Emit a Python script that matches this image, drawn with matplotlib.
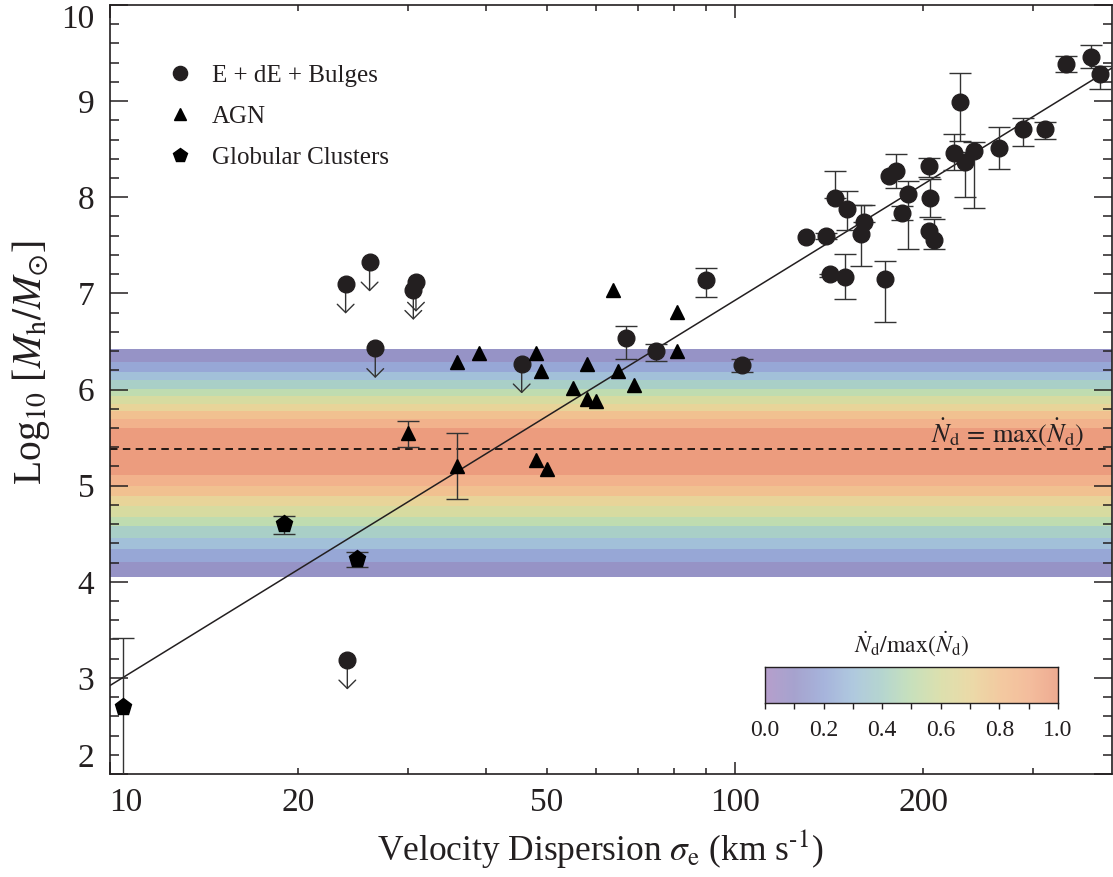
import numpy as np
import matplotlib
matplotlib.use('Agg')
import matplotlib.pyplot as plt
from matplotlib.colors import LinearSegmentedColormap
from matplotlib.ticker import FixedLocator, FixedFormatter

plt.rcParams['font.family'] = ['Liberation Serif', 'DejaVu Serif']
plt.rcParams['mathtext.fontset'] = 'stix'

# ---------------- data ----------------
# E + dE + Bulges (detections)
gal_sigma = [371.5, 338, 384, 229, 288.5, 313, 264.5, 241, 224, 233, 204, 205, 204, 208,
             189, 185, 181, 176, 144.5, 151, 161, 159, 129.7, 139.6, 142, 150, 174,
             89.8, 66.9, 74.9, 102.7]
gal_logM = [9.46, 9.385, 9.28, 8.99, 8.71, 8.71, 8.51, 8.48, 8.465, 8.37, 8.32, 7.99, 7.645, 7.56,
            8.03, 7.84, 8.27, 8.22, 7.99, 7.88, 7.74, 7.62, 7.585, 7.60, 7.20, 7.17, 7.145,
            7.14, 6.54, 6.40, 6.25]
gal_err_lo = [0.12, 0.08, 0.15, 0.40, 0.18, 0.10, 0.22, 0.59, 0.18, 0.37, 0.11, 0.20, 0.0, 0.10,
              0.57, 0.08, 0.17, 0.0, 0.0, 0.22, 0.0, 0.33, 0.0, 0.03, 0.03, 0.23, 0.44,
              0.18, 0.22, 0.10, 0.07]
gal_err_hi = [0.12, 0.08, 0.09, 0.30, 0.11, 0.07, 0.22, 0.09, 0.19, 0.10, 0.09, 0.20, 0.0, 0.21,
              0.14, 0.07, 0.18, 0.0, 0.28, 0.19, 0.18, 0.30, 0.0, 0.03, 0.0, 0.24, 0.19,
              0.12, 0.12, 0.07, 0.07]

# E + dE + Bulges (upper limits)
lim_sigma = [23.85, 26.05, 30.9, 30.6, 26.6, 45.6, 24.0]
lim_logM = [7.10, 7.33, 7.12, 7.035, 6.43, 6.27, 3.19]

# AGN
agn_sigma = [35.95, 38.9, 48.0, 49.0, 57.9, 64.9, 69.0, 55.0, 57.9, 59.9, 80.9, 80.9, 63.9,
             48.0, 50.0, 35.95, 30.0]
agn_logM = [6.29, 6.38, 6.38, 6.19, 6.27, 6.196, 6.045, 6.018, 5.897, 5.879, 6.396, 6.81, 7.04,
            5.269, 5.173, 5.207, 5.552]
agn_err_lo = [0, 0, 0, 0, 0, 0, 0, 0, 0, 0, 0, 0, 0, 0, 0, 0.35, 0.155]
agn_err_hi = [0, 0, 0, 0, 0, 0, 0, 0, 0, 0, 0, 0, 0, 0, 0, 0.34, 0.12]

# Globular clusters
gc_sigma = [10.5, 19.0, 24.9]
gc_logM = [2.70, 4.60, 4.24]
gc_err_lo = [0.80, 0.10, 0.085]
gc_err_hi = [0.71, 0.08, 0.07]

# N_d / max(N_d) bands
band_edges = [6.424, 6.286, 6.186, 6.096, 6.010, 5.930, 5.852, 5.776, 5.690, 5.597,
              5.114, 5.000, 4.893, 4.787, 4.679, 4.576, 4.459, 4.345, 4.207, 4.045]
band_values = [0.1, 0.2, 0.3, 0.4, 0.5, 0.6, 0.7, 0.8, 0.9, 1.0,
               0.9, 0.8, 0.7, 0.6, 0.5, 0.4, 0.3, 0.2, 0.1]
nd_peak = 5.385

# fit relation: logM = fit_norm + fit_slope * log10(sigma / fit_pivot)
fit_pivot = 200.0
fit_norm = 8.135
fit_slope = 4.01

x_major = [10, 100]
x_minor = [20, 30, 40, 50, 60, 70, 80, 90, 200, 300]
x_minor_labels = ['20', '', '', '50', '', '', '', '', '200', '']
y_major = [2, 3, 4, 5, 6, 7, 8, 9, 10]
cbar_major = [0.0, 0.2, 0.4, 0.6, 0.8, 1.0]
cbar_minor = [0.1, 0.3, 0.5, 0.7, 0.9]

# ---------------- style ----------------
cmap = LinearSegmentedColormap.from_list('nd', [
    (0.0, '#a98ec3'), (0.1, '#9693c6'), (0.2, '#97a7d6'), (0.3, '#a2c0d9'),
    (0.4, '#a9cfc7'), (0.5, '#bfdcb0'), (0.6, '#d7dba0'), (0.7, '#e8d499'),
    (0.8, '#f1c190'), (0.9, '#f2b28c'), (1.0, '#ec9c7e')])

ink = '#231f20'
fig = plt.figure(figsize=(11.13, 8.77), dpi=100)
ax = fig.add_axes([0.0984, 0.1174, 0.9003, 0.8769])
ax.set_xscale('log')
ax.set_xlim(10, 400)
ax.set_ylim(2, 10)

# bands
for i, v in enumerate(band_values):
    ax.axhspan(band_edges[i + 1], band_edges[i], color=cmap(v), lw=0, zorder=0)
ax.axhline(nd_peak, color='black', lw=1.2, dashes=(4.5, 3.2), zorder=1)
ax.text(362, 5.55, r'$\dot{N}_{\rm d}\,=\,{\rm max}(\dot{N}_{\rm d})$', fontsize=19,
        ha='right', va='center', color=ink, zorder=2)

# fit line
xs = np.geomspace(10, 400, 200)
ax.plot(xs, fit_norm + fit_slope * np.log10(xs / fit_pivot), color=ink, lw=1.1, zorder=2)

err_kw = dict(fmt='none', ecolor='#333333', elinewidth=1.0, capsize=8, capthick=1.0, zorder=3)

# galaxies
gs = np.array(gal_sigma); gm = np.array(gal_logM)
glo = np.array(gal_err_lo); ghi = np.array(gal_err_hi)
m = (glo > 0) | (ghi > 0)
ax.errorbar(gs[m], gm[m], yerr=[glo[m], ghi[m]], **err_kw)
ax.plot(gs, gm, 'o', ms=12, color=ink, mec=ink, zorder=4, label='E + dE + Bulges')

# upper limits
for s, v in zip(lim_sigma, lim_logM):
    ax.annotate('', xy=(s, v - 0.31), xytext=(s, v),
                arrowprops=dict(arrowstyle='->,head_length=0.6,head_width=0.6',
                                lw=1.0, color='#333333', shrinkA=0, shrinkB=0),
                zorder=3)
ax.plot(lim_sigma, lim_logM, 'o', ms=12, color=ink, mec=ink, zorder=4)

# AGN
as_ = np.array(agn_sigma); am = np.array(agn_logM)
alo = np.array(agn_err_lo); ahi = np.array(agn_err_hi)
m = (alo > 0) | (ahi > 0)
ax.errorbar(as_[m], am[m], yerr=[alo[m], ahi[m]], **err_kw)
ax.plot(as_, am, '^', ms=9.8, color='black', zorder=4, label='AGN')

# globular clusters
ax.errorbar(gc_sigma, gc_logM, yerr=[gc_err_lo, gc_err_hi], **err_kw)
ax.plot(gc_sigma, gc_logM, 'p', ms=12.5, color='black', zorder=4, label='Globular Clusters')

# axes styling
for sp in ax.spines.values():
    sp.set_linewidth(1.2)
    sp.set_color(ink)
ax.xaxis.set_major_locator(FixedLocator(x_major))
ax.xaxis.set_major_formatter(FixedFormatter([str(v) for v in x_major]))
ax.xaxis.set_minor_locator(FixedLocator(x_minor))
ax.xaxis.set_minor_formatter(FixedFormatter(x_minor_labels))
ax.yaxis.set_major_locator(FixedLocator(y_major))
ax.yaxis.set_minor_locator(FixedLocator(np.arange(2, 10.01, 0.2)))
ax.tick_params(which='both', direction='in', top=True, right=True, color=ink, width=1.1,
               labelcolor=ink)
ax.tick_params(axis='x', which='major', length=9, labelsize=24, pad=10)
ax.tick_params(axis='x', which='minor', length=4.5, labelsize=24, pad=10)
ax.tick_params(axis='y', which='major', length=13, labelsize=24, pad=11)
ax.tick_params(axis='y', which='minor', length=6.5)

xl = ax.xaxis.get_majorticklabels()
xl[0].set_horizontalalignment('left')
yl = ax.yaxis.get_majorticklabels()
yl[0].set_verticalalignment('bottom')
yl[-1].set_verticalalignment('top')

ax.set_xlabel(r'Velocity Dispersion $\sigma_{\rm e}$ (km s$^{\text{-1}}$)', fontsize=25.5,
              color=ink)
ax.xaxis.set_label_coords(0.4895, -0.071)
ax.set_ylabel(r'Log$_{10}$ [$M_{\rm h}/M_{\odot}$]', fontsize=28.5, color=ink)
ax.yaxis.set_label_coords(-0.057, 0.535)

leg = ax.legend(loc='upper left', bbox_to_anchor=(0.045, 0.936), frameon=False,
                fontsize=18, handlelength=1.2, handletextpad=0.7, labelspacing=0.75,
                borderaxespad=0, markerscale=0.85)
for t in leg.get_texts():
    t.set_color(ink)

# colorbar
cax = fig.add_axes([0.6873, 0.198, 0.2633, 0.0417])
cax.imshow(np.linspace(0, 1, 256)[None, :], aspect='auto', cmap=cmap, alpha=0.85,
           extent=[0, 1, 0, 1])
cax.set_yticks([])
cax.set_xticks(cbar_major)
cax.set_xticklabels(['%.1f' % v for v in cbar_major])
cax.set_xticks(cbar_minor, minor=True)
cax.tick_params(axis='x', which='both', direction='out', length=4, width=1.0, color=ink,
                labelsize=17, labelcolor=ink, pad=8)
for sp in cax.spines.values():
    sp.set_linewidth(1.0)
    sp.set_color(ink)
cax.set_title(r'$\dot{N}_{\rm d}/{\rm max}(\dot{N}_{\rm d})$', fontsize=17, color=ink, pad=11)

fig.savefig('out.png', dpi=100)
